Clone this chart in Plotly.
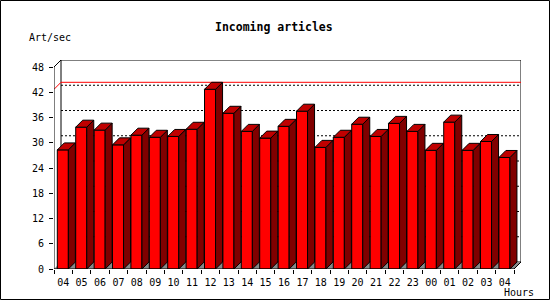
import plotly.graph_objects as go

# ---- data ----
hours = ["04", "05", "06", "07", "08", "09", "10", "11", "12", "13", "14", "15", "16",
         "17", "18", "19", "20", "21", "22", "23", "00", "01", "02", "03", "04"]
values = [28.3, 33.7, 33.0, 29.5, 31.8, 31.3, 31.5, 33.2, 42.7, 37.0, 32.7, 31.1, 33.9,
          37.5, 28.9, 31.3, 34.4, 31.5, 34.6, 32.7, 28.2, 34.9, 28.2, 30.3, 26.5]
y_ticks = [0, 6, 12, 18, 24, 30, 36, 42, 48]
title_text = "Incoming articles"
y_title = "Art/sec"
x_title = "Hours"

# ---- geometry (style) ----
W, H = 550, 300
L, R, T, B = 54, 29, 60, 31
PW, PH = W - L - R, H - T - B
n = len(hours)
YMAX = 48
DEPTH_PX = 7
px_per_x = (PW - DEPTH_PX) / n
dx = DEPTH_PX / px_per_x
px_per_y = (PH - DEPTH_PX) / YMAX
dy = DEPTH_PX / px_per_y
x0, x1 = -0.5, n - 0.5
bar_w = 0.6
bar_off = -0.32

def ppx(x):
    return (x - L) / PW

def ppy(y):
    return (H - B - y) / PH

RED, SIDE, TOP, FLOOR = "#FF0000", "#800000", "#C00000", "#888888"
FONT = "DejaVu Sans Mono"

fig = go.Figure()

# front faces
fig.add_trace(go.Bar(
    x=list(range(n)), y=values, width=bar_w, offset=bar_off,
    marker=dict(color=RED, line=dict(color="black", width=1)),
    hoverinfo="skip", showlegend=False))

# side and top faces
sx, sy, tx, ty = [], [], [], []
for i, v in enumerate(values):
    xl = i + bar_off
    xr = xl + bar_w
    sx += [xr, xr + dx, xr + dx, xr, xr, None]
    sy += [0, dy, v + dy, v, 0, None]
    tx += [xl, xr, xr + dx, xl + dx, xl, None]
    ty += [v, v, v + dy, v + dy, v, None]
fig.add_trace(go.Scatter(x=sx, y=sy, mode="lines", fill="toself", fillcolor=SIDE,
                         line=dict(color="black", width=1), hoverinfo="skip", showlegend=False))
fig.add_trace(go.Scatter(x=tx, y=ty, mode="lines", fill="toself", fillcolor=TOP,
                         line=dict(color="black", width=1), hoverinfo="skip", showlegend=False))

shapes = []
# back plane
shapes.append(dict(type="rect", xref="x", yref="y", x0=x0 + dx, x1=x1 + dx, y0=dy, y1=YMAX + dy,
                   line=dict(color="black", width=1), fillcolor="white", layer="below"))
# dotted gridlines on back plane
for v in y_ticks[1:-1]:
    shapes.append(dict(type="line", xref="x", yref="y", x0=x0 + dx, x1=x1 + dx, y0=v + dy, y1=v + dy,
                       line=dict(color="black", width=1, dash="2px,2px"), layer="below"))
# floor
shapes.append(dict(type="path", xref="x", yref="y",
                   path=f"M {x0} 0 L {x1} 0 L {x1 + dx} {dy} L {x0 + dx} {dy} Z",
                   fillcolor=FLOOR, line=dict(width=0), layer="below"))
# max line
m = max(values)
shapes.append(dict(type="line", xref="x", yref="y", x0=x0 + dx, x1=x1 + dx, y0=m + dy, y1=m + dy,
                   line=dict(color="red", width=1), layer="below"))
shapes.append(dict(type="line", xref="x", yref="y", x0=x0, x1=x0 + dx, y0=m, y1=m + dy,
                   line=dict(color="red", width=1), layer="below"))
# front frame lines
for (a, b, c, d) in [(x0, 0, x0, YMAX), (x0, YMAX, x0 + dx, YMAX + dy),
                     (x0, 0, x1, 0), (x1, 0, x1 + dx, dy)]:
    shapes.append(dict(type="line", xref="x", yref="y", x0=a, y0=b, x1=c, y1=d,
                       line=dict(color="black", width=1), layer="above"))
# image border
shapes.append(dict(type="rect", xref="paper", yref="paper",
                   x0=ppx(0.5), x1=ppx(549.5), y0=ppy(299.5), y1=ppy(0.5),
                   line=dict(color="black", width=1), fillcolor="rgba(0,0,0,0)", layer="above"))

annotations = [
    dict(text=f"<b>{title_text}</b>", x=ppx(274), y=ppy(27), xref="paper", yref="paper",
         xanchor="center", yanchor="middle", showarrow=False,
         font=dict(family=FONT, size=11.5, color="black")),
    dict(text=y_title, x=ppx(50), y=ppy(37), xref="paper", yref="paper",
         xanchor="center", yanchor="middle", showarrow=False,
         font=dict(family=FONT, size=10, color="black")),
    dict(text=x_title, x=ppx(519), y=ppy(292), xref="paper", yref="paper",
         xanchor="center", yanchor="middle", showarrow=False,
         font=dict(family=FONT, size=10, color="black")),
]

fig.update_layout(
    width=W, height=H, margin=dict(l=L, r=R, t=T, b=B, pad=0),
    paper_bgcolor="white", plot_bgcolor="white",
    shapes=shapes, annotations=annotations, showlegend=False, hovermode=False,
    bargap=0,
    xaxis=dict(range=[x0, x1 + dx], tickmode="array", tickvals=list(range(n)), ticktext=hours,
               ticks="", showgrid=False, zeroline=False, showline=False, fixedrange=True,
               ticklabelstandoff=6,
               tickfont=dict(family=FONT, size=10, color="black"),
               minor=dict(tickmode="array", tickvals=[i - 0.5 for i in range(n + 1)],
                          ticks="outside", ticklen=4, tickcolor="black", tickwidth=1, showgrid=False)),
    yaxis=dict(range=[0, YMAX + dy], tickmode="array", tickvals=y_ticks,
               ticks="outside", ticklen=4, tickcolor="black", tickwidth=1,
               showgrid=False, zeroline=False, showline=False, fixedrange=True,
               ticklabelstandoff=3,
               tickfont=dict(family=FONT, size=10, color="black")),
)

fig.write_html("out.html", config={"displayModeBar": False, "staticPlot": True})
